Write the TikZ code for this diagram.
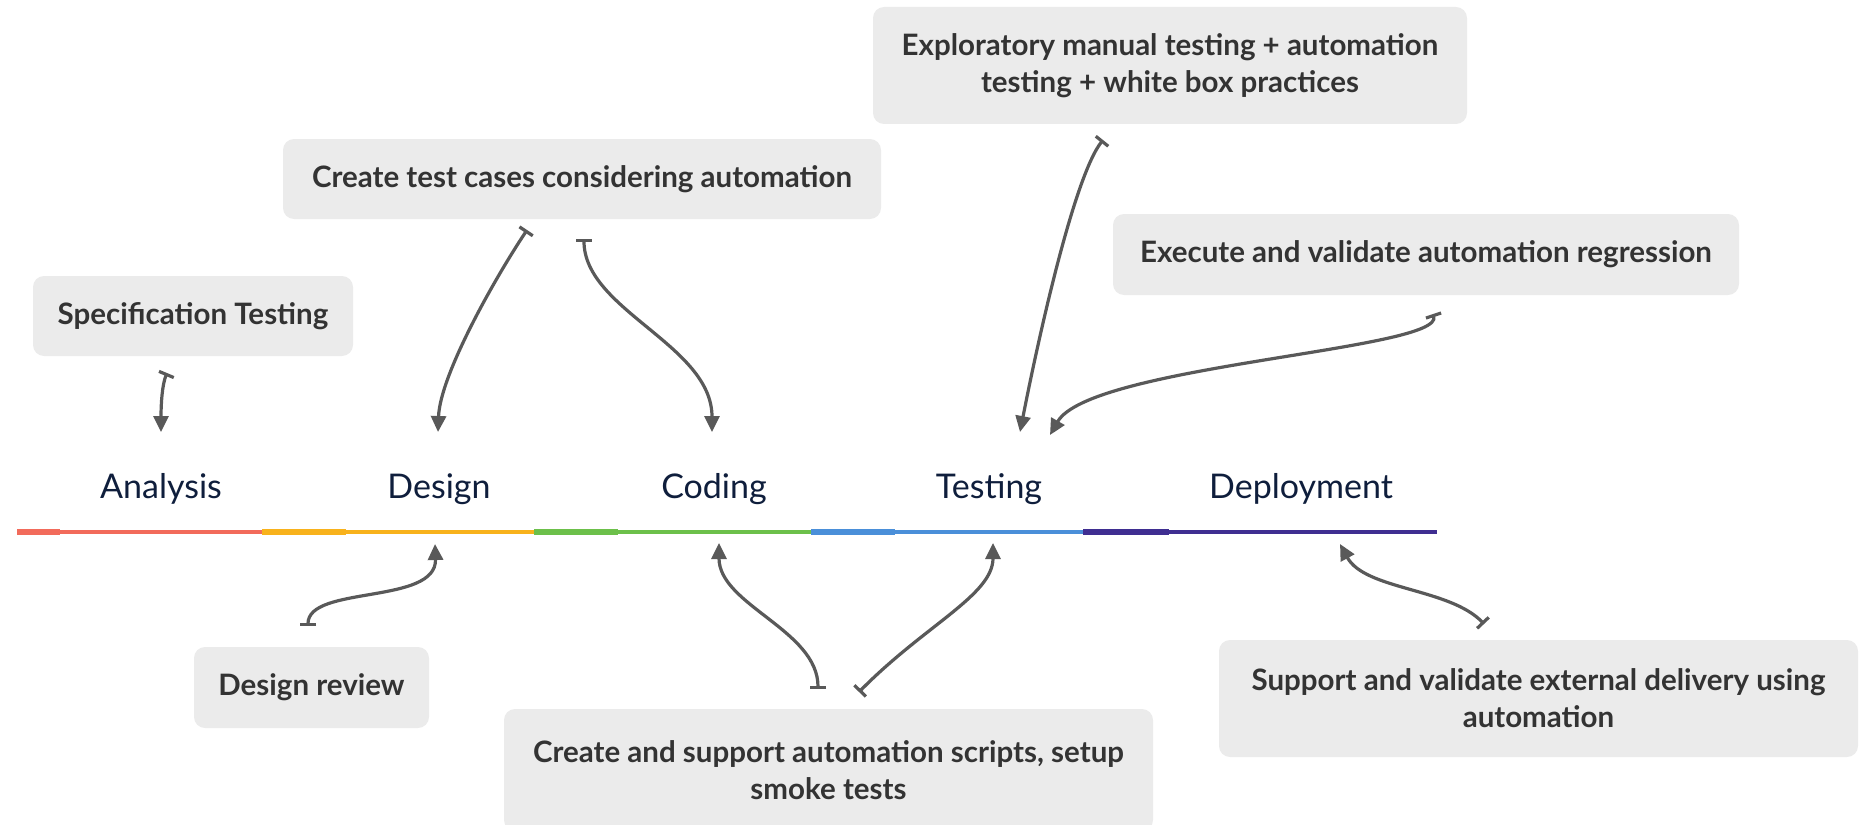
\documentclass[tikz,border=0pt]{standalone}
\usepackage{fontspec}
\setmainfont{Lato}
\usetikzlibrary{arrows.meta}
\definecolor{boxfill}{HTML}{EBEBEB}
\definecolor{boxtext}{HTML}{333333}
\definecolor{labtext}{HTML}{0F1E3C}
\definecolor{conn}{HTML}{595959}
\definecolor{cred}{HTML}{F26B5B}
\definecolor{corange}{HTML}{F8B21C}
\definecolor{cgreen}{HTML}{6CC04A}
\definecolor{cblue}{HTML}{4A8FD9}
\definecolor{cpurple}{HTML}{3F2E91}
\tikzset{
  card/.style={fill=boxfill, rounded corners=11pt, inner sep=0pt, align=center,
    text=boxtext, font=\fontsize{29.5}{37}\selectfont\bfseries},
  phase/.style={text=labtext, font=\fontsize{34}{40}\selectfont, inner sep=0pt},
  link/.style={draw=conn, line width=3.2pt,
    {Bar[width=16pt,line width=3.2pt]}-{Triangle[length=16pt,width=15pt]}},
  thickseg/.style={line width=6pt},
  thinseg/.style={line width=4pt}
}
\begin{document}
\begin{tikzpicture}[x=1pt,y=-1pt]
\useasboundingbox (0,0) rectangle (1870,824);
% boxes
\node[card, minimum width=320pt, minimum height=80pt] (spec) at (193,316) {Specification Testing};
\node[card, minimum width=598pt, minimum height=80pt] (ctest) at (582,179) {Create test cases considering automation};
\node[card, minimum width=594pt, minimum height=117pt] (explor) at (1170,65.5) {Exploratory manual testing + automation\\testing + white box practices};
\node[card, minimum width=626pt, minimum height=81pt] (exec) at (1426,254.5) {Execute and validate automation regression};
\node[card, minimum width=235pt, minimum height=81pt] (drev) at (311.5,687.5) {Design review};
\node[card, minimum width=649pt, minimum height=122pt] (smoke) at (828.5,770) {Create and support automation scripts, setup\\smoke tests};
\node[card, minimum width=639pt, minimum height=117pt] (supp) at (1538.5,698.5) {Support and validate external delivery using\\automation};
% phase labels
\node[phase] (analysis) at (161,489) {Analysis};
\node[phase] (design) at (439,489) {Design};
\node[phase] (coding) at (714,489) {Coding};
\node[phase] (testing) at (989,489) {Testing};
\node[phase] (deploy) at (1301,489) {Deployment};
% timeline
\coordinate (t0) at (17,532);
\coordinate (t1) at (262,532);
\coordinate (t2) at (534,532);
\coordinate (t3) at (811,532);
\coordinate (t4) at (1083,532);
\coordinate (t5) at (1437,532);
\draw[cred,thinseg] (t0) -- (t1);
\draw[cred,thickseg] (t0) -- ++(43,0);
\draw[corange,thinseg] (t1) -- (t2);
\draw[corange,thickseg] (t1) -- ++(84,0);
\draw[cgreen,thinseg] (t2) -- (t3);
\draw[cgreen,thickseg] (t2) -- ++(84,0);
\draw[cblue,thinseg] (t3) -- (t4);
\draw[cblue,thickseg] (t3) -- ++(84,0);
\draw[cpurple,thinseg] (t4) -- (t5);
\draw[cpurple,thickseg] (t4) -- ++(86,0);
% connector end points
\coordinate (a1) at (167,373); \coordinate (a2) at (161,432);
\coordinate (b1) at (527,230); \coordinate (b2) at (438,432);
\coordinate (c1) at (584,239); \coordinate (c2) at (712,432);
\coordinate (d1) at (1103,140); \coordinate (d2) at (1020,432);
\coordinate (e1) at (1433,314); \coordinate (e2) at (1050,435);
\coordinate (f1) at (308,626); \coordinate (f2) at (435,544);
\coordinate (g1) at (818,689); \coordinate (g2) at (719,543);
\coordinate (h1) at (859,692); \coordinate (h2) at (993,543);
\coordinate (i1) at (1484,624); \coordinate (i2) at (1340,544);
% connectors
\draw[link] (a1) .. controls (162,385) and (161,405) .. (a2);
\draw[link] (b1) .. controls (495,278) and (440,375) .. (b2);
\draw[link] (c1) .. controls (584,310) and (712,345) .. (c2);
\draw[link] (d1) .. controls (1075,175) and (1040,330) .. (d2);
\draw[link] (e1) .. controls (1445,350) and (1090,365) .. (e2);
\draw[link] (f1) .. controls (308,585) and (437,605) .. (f2);
\draw[link] (g1) .. controls (818,630) and (719,605) .. (g2);
\draw[link] (h1) .. controls (925,625) and (993,595) .. (h2);
\draw[link] (i1) .. controls (1450,588) and (1365,590) .. (i2);
\end{tikzpicture}
\end{document}
